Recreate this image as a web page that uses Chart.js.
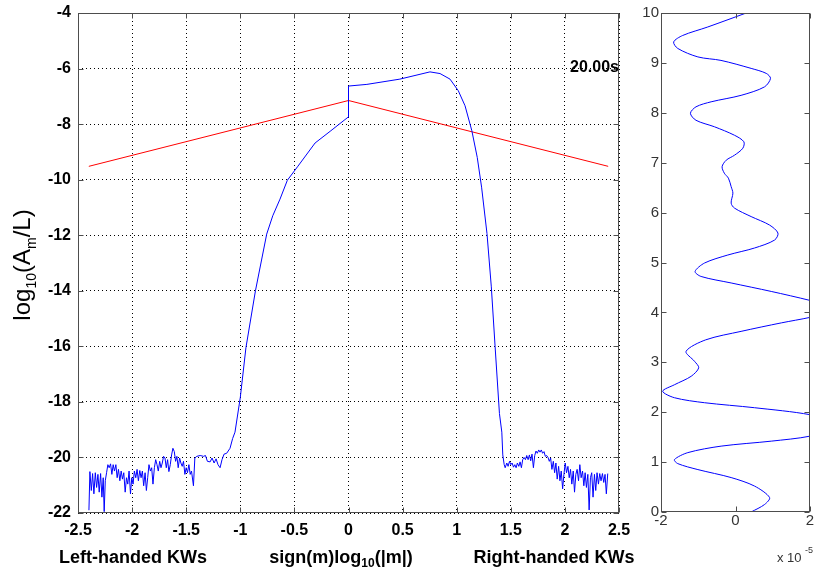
<!DOCTYPE html>
<html>
<head>
<meta charset="utf-8">
<script src="https://cdn.jsdelivr.net/npm/chart.js@4.4.1/dist/chart.umd.min.js"></script>
<style>
  body { margin: 0; background: #fff; width: 816px; height: 571px; position: relative; overflow: hidden; }
  #main { position: absolute; left: 0; top: 0; }
  #side { position: absolute; left: 620px; top: 0; }
</style>
</head>
<body>
<canvas id="main" width="640" height="571"></canvas>
<canvas id="side" width="196" height="571"></canvas>
<script>
// main panel: noisy floor on the left-handed side
const leftNoiseX = [-2.399,-2.390,-2.377,-2.365,-2.353,-2.340,-2.328,-2.316,-2.304,-2.291,-2.279,-2.267,-2.258,-2.248,-2.236,-2.224,-2.212,-2.199,-2.187,-2.175,-2.163,-2.150,-2.138,-2.126,-2.113,-2.101,-2.089,-2.077,-2.064,-2.052,-2.040,-2.028,-2.015,-2.003,-1.991,-1.979,-1.966,-1.954,-1.942,-1.929,-1.917,-1.905,-1.893,-1.880,-1.868,-1.856,-1.844,-1.831,-1.819,-1.807,-1.794,-1.782,-1.770,-1.758,-1.745,-1.733,-1.721,-1.709,-1.696,-1.684,-1.672,-1.660,-1.647,-1.635,-1.623,-1.610,-1.598,-1.586,-1.574,-1.561,-1.549,-1.537,-1.525,-1.512,-1.500,-1.488,-1.475,-1.463,-1.451,-1.433,-1.420,-1.402,-1.371,-1.340,-1.322,-1.304,-1.279,-1.261,-1.242,-1.224,-1.206,-1.187,-1.169,-1.150,-1.126,-1.095,-1.071];
const leftNoiseY = [-21.9,-20.51,-21.19,-20.58,-21.31,-20.55,-21.08,-20.61,-21.25,-20.58,-21.43,-20.73,-21.95,-20.84,-20.55,-20.26,-20.37,-20.23,-20.61,-20.26,-20.49,-20.26,-20.73,-20.43,-20.84,-20.49,-20.78,-20.55,-21.25,-20.73,-20.96,-20.49,-21.31,-20.73,-20.96,-20.49,-20.73,-20.43,-20.84,-20.47,-20.73,-20.49,-21.02,-20.55,-21.19,-20.73,-20.26,-20.49,-20.37,-20.96,-20.37,-20.08,-20.26,-20.49,-20.14,-20.37,-20.2,-19.96,-20.02,-20.37,-20.08,-20.51,-20.26,-19.91,-19.67,-19.79,-20.14,-19.96,-20.37,-20.02,-20.2,-20.32,-20.14,-20.61,-20.37,-20.55,-20.26,-20.61,-20.49,-21.02,-20.02,-19.96,-19.93,-19.96,-19.93,-20.14,-20.16,-20.02,-20.2,-20.05,-20.26,-20.37,-20.08,-19.88,-19.85,-19.67,-19.32];

// main panel: rise, jump at 0, peak and fall
const coreX = [-1.049,-1.0,-0.948,-0.86,-0.756,-0.70,-0.633,-0.565,-0.472,-0.309,-0.17,-0.004,0.0,0.17,0.475,0.753,0.846,0.938,1.015,1.077,1.14,1.19,1.23,1.28,1.32,1.355,1.395,1.417,1.426,1.439];
const coreY = [-19.09,-17.84,-16.05,-14.0,-11.96,-11.3,-10.7,-10.02,-9.54,-8.68,-8.26,-7.75,-6.63,-6.57,-6.38,-6.12,-6.18,-6.38,-6.8,-7.34,-8.24,-9.2,-10.27,-11.94,-13.86,-16.02,-18.42,-19.09,-19.91,-20.26];

// main panel: noisy floor on the right-handed side
const rightNoiseX = [1.448,1.463,1.475,1.488,1.500,1.512,1.525,1.537,1.549,1.561,1.574,1.586,1.598,1.610,1.623,1.635,1.647,1.660,1.672,1.684,1.696,1.709,1.721,1.733,1.745,1.758,1.770,1.782,1.794,1.807,1.819,1.831,1.844,1.856,1.868,1.880,1.893,1.905,1.917,1.929,1.942,1.954,1.966,1.979,1.991,2.003,2.015,2.028,2.040,2.052,2.064,2.077,2.089,2.101,2.113,2.126,2.138,2.150,2.163,2.175,2.187,2.199,2.212,2.224,2.236,2.248,2.260,2.273,2.285,2.297,2.310,2.322,2.334,2.347,2.359,2.371,2.383,2.396];
const rightNoiseY = [-20.37,-20.2,-20.32,-20.14,-20.26,-20.2,-20.35,-20.26,-20.37,-20.2,-20.32,-20.16,-20.37,-20.08,-20.0,-20.08,-19.93,-20.08,-19.91,-20.12,-19.88,-20.37,-19.93,-19.77,-19.85,-19.73,-19.81,-19.73,-19.85,-19.79,-19.96,-19.93,-20.0,-20.14,-20.02,-20.43,-20.14,-20.55,-20.2,-20.78,-20.32,-20.84,-20.49,-21.13,-20.61,-20.2,-20.55,-20.32,-20.73,-20.43,-20.96,-20.49,-21.25,-20.61,-20.43,-20.84,-20.26,-20.73,-20.49,-21.02,-20.55,-21.08,-20.61,-21.89,-20.73,-20.55,-21.43,-20.61,-21.19,-20.55,-20.96,-20.58,-20.84,-20.58,-20.9,-20.61,-21.31,-20.58];

// red reference line
const redX = [-2.4, 0, 2.4];
const redY = [-9.52, -7.15, -9.52];

// tick labels
const mainXTicks = [-2.5,-2,-1.5,-1,-0.5,0,0.5,1,1.5,2,2.5];
const mainYTicks = [-4,-6,-8,-10,-12,-14,-16,-18,-20,-22];
const sideXTicks = [-2, 0, 2];
const sideYTicks = [0,1,2,3,4,5,6,7,8,9,10];

// side panel: height vs amplitude (x 1e-5)
const waveY = [0,0.15,0.29,0.52,0.69,0.85,0.97,1.05,1.19,1.32,1.42,1.52,1.74,1.95,2.09,2.19,2.29,2.42,2.55,2.72,2.89,3.02,3.22,3.45,3.62,3.79,3.9,4.06,4.24,4.42,4.59,4.72,4.82,4.99,5.15,5.29,5.45,5.59,5.75,5.92,6.09,6.19,6.39,6.52,6.69,6.79,6.92,7.05,7.15,7.29,7.42,7.55,7.72,7.85,7.99,8.12,8.22,8.35,8.52,8.69,8.79,8.89,9.05,9.12,9.29,9.42,9.55,9.72,10.0];
const waveX = [0.42,0.78,0.915,0.51,-0.117,-1.01,-1.55,-1.64,-1.28,-0.386,0.96,2.0,3.0,2.0,0.51,-0.83,-1.64,-1.955,-1.64,-1.19,-0.987,-1.10,-1.327,-0.80,0.15,1.23,2.0,2.9,2.0,0.96,-0.117,-0.924,-1.085,-0.83,-0.206,0.51,1.05,1.14,0.915,0.42,-0.027,-0.117,-0.07,-0.117,-0.19,-0.30,-0.36,-0.25,-0.027,0.197,0.224,-0.027,-0.565,-1.06,-1.21,-1.06,-0.655,0.15,0.78,0.94,0.825,0.42,-0.39,-1.01,-1.55,-1.66,-1.417,-0.744,0.287];

Chart.defaults.font.family = 'Liberation Sans, Arial, sans-serif';

function zip(xs, ys) {
  return xs.map((x, i) => ({ x: x, y: ys[i] }));
}

// draw text made of runs with different fonts / vertical offsets, centred on cx
function drawRuns(ctx, runs, cx, y) {
  let total = 0;
  runs.forEach(r => { ctx.font = r.font; total += ctx.measureText(r.t).width; });
  let x = cx - total / 2;
  ctx.textAlign = 'left';
  runs.forEach(r => {
    ctx.font = r.font;
    ctx.fillText(r.t, x, y + (r.dy || 0));
    x += ctx.measureText(r.t).width;
  });
}

// matlab style box with inward ticks on all four sides
function drawBox(ctx, a, xs, xTicks, ys, yTicks) {
  ctx.save();
  ctx.strokeStyle = '#4d4d4d';
  ctx.lineWidth = 1;
  ctx.beginPath();
  const L = Math.round(a.left) + 0.5, R = Math.round(a.right) - 0.5;
  const T = Math.round(a.top) + 0.5, B = Math.round(a.bottom) - 0.5;
  xTicks.forEach(v => {
    const px = Math.round(xs.getPixelForValue(v)) + 0.5;
    ctx.moveTo(px, T); ctx.lineTo(px, T + 5);
    ctx.moveTo(px, B); ctx.lineTo(px, B - 5);
  });
  yTicks.forEach(v => {
    const py = Math.round(ys.getPixelForValue(v)) + 0.5;
    ctx.moveTo(L, py); ctx.lineTo(L + 5, py);
    ctx.moveTo(R, py); ctx.lineTo(R - 5, py);
  });
  ctx.stroke();
  ctx.strokeRect(L, T, R - L, B - T);
  ctx.restore();
}

const mainDecor = {
  id: 'mainDecor',
  afterDraw(chart) {
    const { ctx, chartArea: a, scales: { x, y } } = chart;
    drawBox(ctx, a, x, mainXTicks, y, mainYTicks);
    ctx.save();
    ctx.fillStyle = '#000';
    ctx.textBaseline = 'middle';
    ctx.textAlign = 'right';
    ctx.font = 'bold 16px Liberation Sans';
    ctx.fillText('20.00s', a.right, y.getPixelForValue(-6) - 0.5);

    ctx.textBaseline = 'alphabetic';
    const big = 'bold 18px Liberation Sans', small = 'bold 12px Liberation Sans';
    drawRuns(ctx, [{ t: 'Left-handed KWs', font: big }], 133, 563);
    drawRuns(ctx, [
      { t: 'sign(m)log', font: big },
      { t: '10', font: small, dy: 4 },
      { t: '(|m|)', font: big }
    ], 341, 563);
    drawRuns(ctx, [{ t: 'Right-handed KWs', font: big }], 554, 563);

    ctx.translate(30, 265);
    ctx.rotate(-Math.PI / 2);
    const yb = '24px Liberation Sans', ys = '14px Liberation Sans';
    drawRuns(ctx, [
      { t: 'log', font: yb },
      { t: '10', font: ys, dy: 6 },
      { t: '(A', font: yb },
      { t: 'm', font: ys, dy: 6 },
      { t: '/L)', font: yb }
    ], 0, 0);
    ctx.restore();
  }
};

const sideDecor = {
  id: 'sideDecor',
  afterDraw(chart) {
    const { ctx, chartArea: a, scales: { x, y } } = chart;
    drawBox(ctx, a, x, sideXTicks, y, sideYTicks);
    ctx.save();
    ctx.fillStyle = '#333';
    ctx.textBaseline = 'alphabetic';
    ctx.textAlign = 'left';
    ctx.font = '13px Liberation Sans';
    ctx.fillText('x 10', 157, 562);
    ctx.font = '9px Liberation Sans';
    ctx.fillText('-5', 185, 553);
    ctx.restore();
  }
};

// keep the plot box exactly where the layout padding puts it
function fixX(h) {
  return function (s) { s.height = h; s.paddingLeft = 0; s.paddingRight = 0; };
}
function fixY(w) {
  return function (s) { s.width = w; s.paddingTop = 0; s.paddingBottom = 0; };
}

const mainChart = new Chart(document.getElementById('main'), {
  type: 'scatter',
  data: {
    datasets: [
      {
        data: zip(leftNoiseX.concat(coreX, rightNoiseX), leftNoiseY.concat(coreY, rightNoiseY)),
        borderColor: '#0000ff', borderWidth: 1, showLine: true, pointRadius: 0, tension: 0
      },
      {
        data: zip(redX, redY),
        borderColor: '#ff0000', borderWidth: 1, showLine: true, pointRadius: 0, tension: 0
      }
    ]
  },
  options: {
    responsive: false,
    animation: false,
    layout: { padding: { top: 13, right: 21, left: 0, bottom: 0 } },
    plugins: { legend: { display: false }, tooltip: { enabled: false } },
    scales: {
      x: {
        type: 'linear', min: -2.5, max: 2.5,
        afterBuildTicks(s) { s.ticks = mainXTicks.map(v => ({ value: v })); },
        afterFit: fixX(58),
        ticks: { padding: 8, color: '#000', font: { size: 16, weight: 'bold' }, callback: v => String(v), maxRotation: 0, autoSkip: false },
        grid: { color: '#000', drawTicks: false, lineWidth: 1 },
        border: { display: false, dash: [1, 3] }
      },
      y: {
        type: 'linear', min: -22, max: -4,
        afterBuildTicks(s) { s.ticks = mainYTicks.map(v => ({ value: v })); },
        afterFit: fixY(78),
        ticks: { padding: 7, color: '#000', font: { size: 16, weight: 'bold' }, callback: v => String(v), autoSkip: false },
        grid: { color: '#000', drawTicks: false, lineWidth: 1 },
        border: { display: false, dash: [1, 3] }
      }
    }
  },
  plugins: [mainDecor]
});

const sideChart = new Chart(document.getElementById('side'), {
  type: 'scatter',
  data: {
    datasets: [{
      data: zip(waveX, waveY),
      borderColor: '#0000ff', borderWidth: 1, showLine: true, pointRadius: 0, tension: 0.3
    }]
  },
  options: {
    responsive: false,
    animation: false,
    layout: { padding: { top: 13, right: 6, left: 0, bottom: 0 } },
    plugins: { legend: { display: false }, tooltip: { enabled: false } },
    scales: {
      x: {
        type: 'linear', min: -2, max: 2,
        afterBuildTicks(s) { s.ticks = sideXTicks.map(v => ({ value: v })); },
        afterFit: fixX(59),
        ticks: { padding: 0, color: '#333', font: { size: 15 }, callback: v => String(v), maxRotation: 0, autoSkip: false },
        grid: { display: false, drawTicks: false },
        border: { display: false }
      },
      y: {
        type: 'linear', min: 0, max: 10,
        afterBuildTicks(s) { s.ticks = sideYTicks.map(v => ({ value: v })); },
        afterFit: fixY(41),
        ticks: { padding: 2, color: '#333', font: { size: 15 }, callback: v => String(v), autoSkip: false },
        grid: { display: false, drawTicks: false },
        border: { display: false }
      }
    }
  },
  plugins: [sideDecor]
});
</script>
</body>
</html>
